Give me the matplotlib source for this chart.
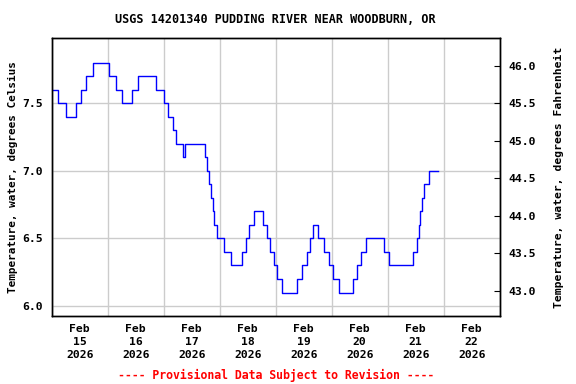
import matplotlib
matplotlib.use("Agg")
import matplotlib.pyplot as plt
import matplotlib.dates as mdates
import numpy as np
import pandas as pd

# change points: hours after 2026-02-15 00:00 and temperature (deg C)
hours = [0, 2.5, 6.25, 10.25, 12.75, 14.75, 17.5, 24.75, 27.5, 30.25,
         34.5, 37.0, 44.5, 48.25, 50.0, 52.0, 53.25, 56.25, 57.25, 65.5,
         66.5, 67.5, 68.25, 69.0, 69.75, 71.0, 74.0, 76.75, 81.75, 83.25,
         84.75, 86.5, 90.5, 92.25, 93.75, 95.25, 96.5, 98.75, 105.0, 107.25,
         109.25, 110.75, 112.0, 114.25, 116.75, 119.0, 120.75, 123.25, 129.25, 131.0,
         132.75, 134.75, 142.25, 144.75, 155.0, 156.75, 157.5, 158.0, 158.75, 159.75,
         161.5, 165.5]
tempC = [7.6, 7.5, 7.4, 7.5, 7.6, 7.7, 7.8, 7.7, 7.6, 7.5,
         7.6, 7.7, 7.6, 7.5, 7.4, 7.3, 7.2, 7.1, 7.2, 7.1,
         7.0, 6.9, 6.8, 6.7, 6.6, 6.5, 6.4, 6.3, 6.4, 6.5,
         6.6, 6.7, 6.6, 6.5, 6.4, 6.3, 6.2, 6.1, 6.2, 6.3,
         6.4, 6.5, 6.6, 6.5, 6.4, 6.3, 6.2, 6.1, 6.2, 6.3,
         6.4, 6.5, 6.4, 6.3, 6.4, 6.5, 6.6, 6.7, 6.8, 6.9,
         7.0, 7.0]

start = pd.Timestamp("2026-02-15")
days = pd.date_range("2026-02-15", "2026-02-22", freq="D")
dayLabels = ["Feb\n%d\n2026" % d.day for d in days]
cTicks = [6.0, 6.5, 7.0, 7.5]
fTicks = [43.0, 43.5, 44.0, 44.5, 45.0, 45.5, 46.0]

title = "USGS 14201340 PUDDING RIVER NEAR WOODBURN, OR"
footer = "---- Provisional Data Subject to Revision ----"

mono = "DejaVu Sans Mono"
fs = 8.2

times = start + pd.to_timedelta(hours, unit="h")

fig = plt.figure(figsize=(5.76, 3.84), dpi=100)
axPos = [0.0898, 0.177, 0.7777, 0.724]
ax = fig.add_axes(axPos)
xMid = axPos[0] + axPos[2] / 2

ax.plot(times, tempC, color="blue", lw=1.0, drawstyle="steps-post")

ax.set_xlim(start, start + pd.Timedelta(days=8))
cLim = (5.926, 7.983)
ax.set_ylim(cLim)

# grid at midnight, labels at noon
ax.xaxis.set_major_locator(mdates.DayLocator())
ax.xaxis.set_major_formatter(plt.NullFormatter())
ax.set_xticks(days + pd.Timedelta(hours=12), minor=True)
ax.set_xticklabels(dayLabels, minor=True, family=mono, fontweight="bold",
                   fontsize=fs, linespacing=1.38)
ax.tick_params(axis="x", which="both", length=0, pad=6)
ax.set_yticks(cTicks)
ax.set_yticklabels(["%.1f" % v for v in cTicks], family=mono,
                   fontweight="bold", fontsize=fs)
ax.tick_params(axis="y", length=0, pad=6.5)
ax.grid(True, which="major", color="#cccccc", lw=1.0)
ax.set_axisbelow(True)
ax.set_ylabel("Temperature, water, degrees Celsius", family=mono,
              fontweight="bold", fontsize=fs - 0.3, labelpad=3)

ax2 = ax.twinx()
ax2.set_ylim(cLim[0] * 1.8 + 32, cLim[1] * 1.8 + 32)
ax2.set_yticks(fTicks)
ax2.set_yticklabels(["%.1f" % v for v in fTicks], family=mono,
                    fontweight="bold", fontsize=fs)
ax2.tick_params(axis="y", direction="in", length=4, pad=6)
ax2.set_ylabel("Temperature, water, degrees Fahrenheit", family=mono,
               fontweight="bold", fontsize=fs, labelpad=13)

for a in (ax, ax2):
    for s in a.spines.values():
        s.set_linewidth(1.0)

fig.text(xMid, 0.95, title, ha="center", va="center", family=mono,
         fontweight="bold", fontsize=8.5)
fig.text(xMid, 0.022, footer, ha="center", va="center", family=mono,
         fontweight="bold", fontsize=8.3, color="red")

fig.savefig("out.png", dpi=100)
